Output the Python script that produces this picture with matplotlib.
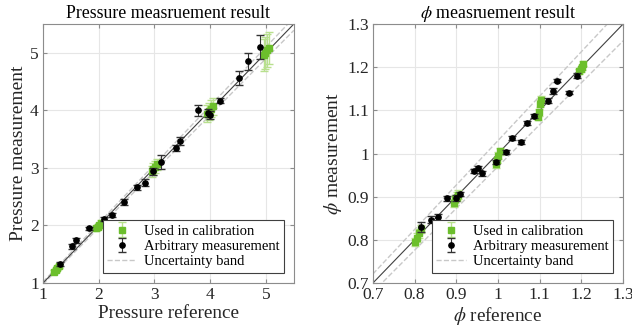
import numpy as np
import matplotlib.pyplot as plt

plt.rcParams['font.family'] = ['Liberation Serif', 'DejaVu Serif']
plt.rcParams['mathtext.fontset'] = 'stix'

# pressure plot data
p_cal_x = [1.20, 1.23, 1.26, 1.29, 1.95, 1.98, 2.01, 2.04, 2.95, 2.98, 3.01, 3.04, 3.95, 3.98, 4.01, 4.05, 4.96, 4.99, 5.02, 5.05]
p_cal_y = [1.20, 1.23, 1.26, 1.30, 1.95, 1.98, 2.01, 2.05, 2.94, 2.98, 3.02, 3.06, 3.94, 3.98, 4.03, 4.07, 4.96, 5.00, 5.04, 5.08]
p_cal_err = [0.03, 0.03, 0.03, 0.03, 0.04, 0.04, 0.04, 0.04, 0.10, 0.10, 0.10, 0.10, 0.15, 0.15, 0.15, 0.15, 0.28, 0.28, 0.28, 0.28]

p_arb_x = [1.31, 1.52, 1.59, 1.83, 2.10, 2.24, 2.45, 2.68, 2.83, 2.98, 3.12, 3.38, 3.46, 3.78, 3.96, 3.99, 4.18, 4.51, 4.68, 4.90]
p_arb_y = [1.33, 1.64, 1.74, 1.95, 2.11, 2.18, 2.41, 2.66, 2.74, 2.94, 3.10, 3.34, 3.47, 4.00, 3.95, 3.92, 4.17, 4.56, 4.85, 5.10]
p_arb_err = [0.03, 0.04, 0.04, 0.03, 0.04, 0.03, 0.05, 0.04, 0.06, 0.06, 0.12, 0.05, 0.07, 0.09, 0.07, 0.07, 0.05, 0.12, 0.15, 0.21]

# phi plot data
f_cal_x = [0.800, 0.805, 0.810, 0.815, 0.895, 0.898, 0.901, 0.904, 0.995, 0.998, 1.001, 1.004, 1.095, 1.098, 1.101, 1.104, 1.195, 1.198, 1.201, 1.204]
f_cal_y = [0.795, 0.805, 0.815, 0.825, 0.885, 0.895, 0.900, 0.905, 0.975, 0.985, 0.995, 1.005, 1.085, 1.095, 1.115, 1.125, 1.190, 1.195, 1.200, 1.208]
f_cal_err = [0.010, 0.010, 0.010, 0.010, 0.010, 0.010, 0.010, 0.010, 0.008, 0.008, 0.008, 0.008, 0.008, 0.008, 0.008, 0.008, 0.006, 0.006, 0.006, 0.006]

f_arb_x = [0.816, 0.840, 0.856, 0.878, 0.899, 0.910, 0.942, 0.951, 0.962, 0.995, 1.019, 1.034, 1.056, 1.069, 1.087, 1.119, 1.131, 1.142, 1.171, 1.189]
f_arb_y = [0.830, 0.847, 0.852, 0.896, 0.897, 0.906, 0.959, 0.966, 0.954, 0.981, 1.004, 1.036, 1.027, 1.071, 1.087, 1.122, 1.144, 1.169, 1.141, 1.180]
f_arb_err = [0.012, 0.008, 0.008, 0.006, 0.006, 0.005, 0.004, 0.005, 0.006, 0.005, 0.004, 0.004, 0.004, 0.005, 0.005, 0.006, 0.007, 0.004, 0.004, 0.006]

green = '#6cbf2c'
green_err = '#b8e08e'
tick_col = '#262626'


def draw(ax, cal_x, cal_y, cal_err, arb_x, arb_y, arb_err, lims, band, ticks, title, xlabel, ylabel):
	line = np.array(lims)
	ax.plot(line, line, color='#404040', lw=0.8, zorder=2)
	ax.plot(line, line * (1 + band), '--', color='#c8c8c8', lw=1, zorder=1, label='Uncertainty band')
	ax.plot(line, line * (1 - band), '--', color='#c8c8c8', lw=1, zorder=1)
	ax.errorbar(cal_x, cal_y, yerr=cal_err, fmt='s', color=green, ms=4, ecolor=green_err,
				elinewidth=1, capsize=3, zorder=3, label='Used in calibration')
	ax.errorbar(arb_x, arb_y, yerr=arb_err, fmt='o', color='black', ms=3.8, ecolor='#333333',
				elinewidth=0.8, capsize=3, zorder=4, label='Arbitrary measurement')
	ax.set_xlim(lims)
	ax.set_ylim(lims)
	ax.set_xticks(ticks)
	ax.set_yticks(ticks)
	ax.set_xticklabels([('%g' % t) for t in ticks])
	ax.set_yticklabels([('%g' % t) for t in ticks])
	ax.grid(True, color='#e6e6e6', lw=0.8)
	ax.set_axisbelow(True)
	for s in ax.spines.values():
		s.set_color('#8c8c8c')
		s.set_linewidth(0.8)
	ax.tick_params(direction='in', length=3, colors='#8c8c8c', labelcolor=tick_col, labelsize=12.5,
				   top=True, right=True, pad=3)
	ax.set_title(title, fontsize=12.8, color='black', pad=4)
	ax.set_xlabel(xlabel, fontsize=13.8, color=tick_col, labelpad=1)
	ax.set_ylabel(ylabel, fontsize=14, color=tick_col, labelpad=2)
	h, l = ax.get_legend_handles_labels()
	order = [l.index('Used in calibration'), l.index('Arbitrary measurement'), l.index('Uncertainty band')]
	leg = ax.legend([h[i] for i in order], [l[i] for i in order], loc='lower right', fontsize=10.5,
					frameon=True, fancybox=False, edgecolor='#404040', borderpad=0.3, framealpha=1,
					labelspacing=0.15, handlelength=2.0, handletextpad=0.5, borderaxespad=0.7)
	leg.get_frame().set_linewidth(0.8)


fig = plt.figure(figsize=(6.32, 3.33), dpi=100)
ax1 = fig.add_axes([0.068, 0.150, 0.397, 0.778])
ax2 = fig.add_axes([0.590, 0.150, 0.396, 0.778])

draw(ax1, p_cal_x, p_cal_y, p_cal_err, p_arb_x, p_arb_y, p_arb_err, [1, 5.5], 0.02,
	 [1, 2, 3, 4, 5], 'Pressure measruement result', 'Pressure reference', 'Pressure measurement')
draw(ax2, f_cal_x, f_cal_y, f_cal_err, f_arb_x, f_arb_y, f_arb_err, [0.7, 1.3], 0.03,
	 [0.7, 0.8, 0.9, 1.0, 1.1, 1.2, 1.3], r'$\phi$ measruement result', r'$\phi$ reference', r'$\phi$ measurement')

fig.savefig('out.png', dpi=100)
